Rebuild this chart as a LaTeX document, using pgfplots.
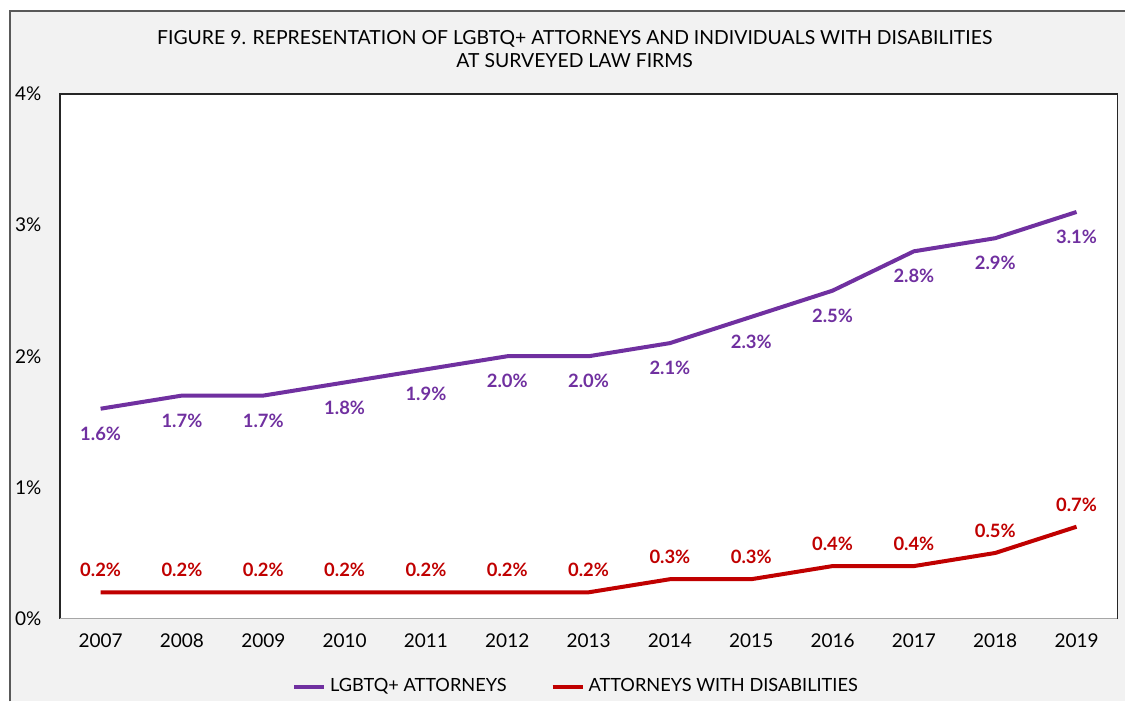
\documentclass[border=0pt]{standalone}
\usepackage{fontspec}
\setmainfont{Lato}
\usepackage{pgfplots}
\pgfplotsset{compat=1.18}
\definecolor{lgbtq}{HTML}{7030A0}
\definecolor{dis}{HTML}{C00000}
\definecolor{panel}{HTML}{F2F2F2}

\pgfplotstableread{
x year lgbtq dis
0 2007 1.6 0.2
1 2008 1.7 0.2
2 2009 1.7 0.2
3 2010 1.8 0.2
4 2011 1.9 0.2
5 2012 2.0 0.2
6 2013 2.0 0.2
7 2014 2.1 0.3
8 2015 2.3 0.3
9 2016 2.5 0.4
10 2017 2.8 0.4
11 2018 2.9 0.5
12 2019 3.1 0.7
}\reptable

\begin{document}
\begin{tikzpicture}
% page: 563pt x 351pt
\fill[white] (0pt,0pt) rectangle (563pt,351pt);
\fill[panel] (5pt,0pt) rectangle (563pt,345.5pt);
\draw[black!65,line width=0.8pt] (5pt,0pt) -- (5pt,345.5pt) -- (563pt,345.5pt);
\node[font=\fontsize{9.7}{11.5}\selectfont,align=center] at (287.5pt,326.5pt)
  {FIGURE 9. REPRESENTATION OF LGBTQ+ ATTORNEYS AND INDIVIDUALS WITH DISABILITIES\\AT SURVEYED LAW FIRMS};
\begin{axis}[at={(30pt,41.5pt)},anchor=south west,scale only axis,
  width=529pt,height=262.5pt,
  xmin=-0.5,xmax=12.5,ymin=0,ymax=4,
  /pgf/number format/assume math mode=true,
  axis line style={draw=none},
  axis background/.style={fill=white},
  major tick length=0pt,
  xtick={0,...,12},
  xticklabels={2007,2008,2009,2010,2011,2012,2013,2014,2015,2016,2017,2018,2019},
  ytick={0,1,2,3,4},
  yticklabels={0\%,1\%,2\%,3\%,4\%},
  xticklabel style={font=\fontsize{9.5}{11}\selectfont,yshift=-4pt},
  yticklabel style={font=\fontsize{9.5}{11}\selectfont,anchor=west,xshift=-26pt},
  legend columns=2,
  legend style={at={(0.489,-0.130)},anchor=center,draw=none,fill=none,
    font=\fontsize{9.1}{11}\selectfont,
    /tikz/every even column/.append style={column sep=20pt}},
  legend image code/.code={\draw[#1,line width=2pt] (0pt,0pt) -- (15pt,0pt);},
  clip=false,
]
\draw[black!85,line width=0.6pt] (rel axis cs:0,0) -- (rel axis cs:0,1) -- (rel axis cs:1,1) -- (rel axis cs:1,0);
\draw[black!35,line width=0.8pt] (rel axis cs:0,0) -- (rel axis cs:1,0);
\addplot[lgbtq,line width=2pt,
  nodes near coords={\pgfmathprintnumber[fixed,fixed zerofill,precision=1]{\pgfplotspointmeta}\%},
  every node near coord/.append style={anchor=center,yshift=-12.5pt,
    font=\fontsize{9.2}{11}\selectfont\bfseries,text=lgbtq}]
  table[x=x,y=lgbtq] {\reptable};
\addlegendentry{LGBTQ+ ATTORNEYS}
\addplot[dis,line width=2pt,
  nodes near coords={\pgfmathprintnumber[fixed,fixed zerofill,precision=1]{\pgfplotspointmeta}\%},
  every node near coord/.append style={anchor=center,yshift=11pt,
    font=\fontsize{9.2}{11}\selectfont\bfseries,text=dis}]
  table[x=x,y=dis] {\reptable};
\addlegendentry{ATTORNEYS WITH DISABILITIES}
\end{axis}
\useasboundingbox (0pt,0pt) rectangle (563pt,351pt);
\end{tikzpicture}
\end{document}
